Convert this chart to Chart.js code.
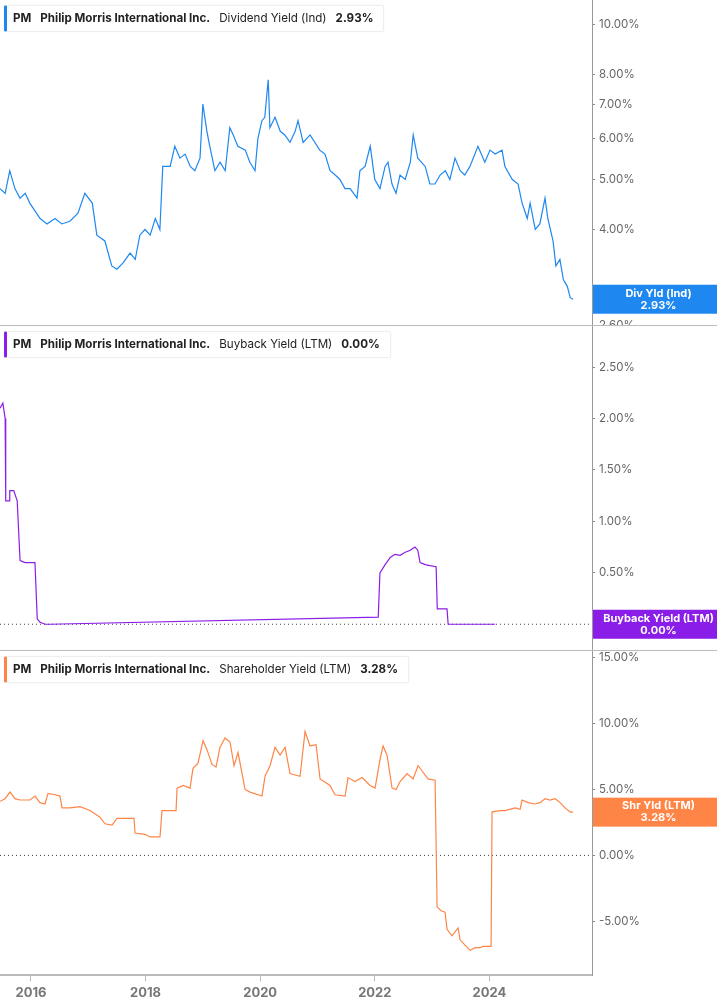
<!DOCTYPE html>
<html><head><meta charset="utf-8">
<script src="https://cdn.jsdelivr.net/npm/chart.js@4"></script>
<style>
body{margin:0;background:#fff;font-family:Inter,"Noto Sans",sans-serif;}
.p{position:absolute;left:0;width:717px;}
.hdr{position:absolute;left:4px;height:25px;background:#fff;border:1px solid #eee;border-left:3px solid;border-radius:2px;font-size:11.6px;line-height:25px;padding:0 10px 0 6px;color:#222;white-space:nowrap;z-index:2;box-shadow:0 0 2px rgba(0,0,0,.05)}
.hdr b{font-weight:700;margin-right:9px}.hdr span{margin-right:9px}
.sep{position:absolute;left:0;width:717px;height:1px;background:#bbb;z-index:1}
</style></head><body>
<div class="p" style="top:0;height:326px"><canvas id="c1"></canvas></div>
<div class="p" style="top:326px;height:325px"><canvas id="c2"></canvas></div>
<div class="p" style="top:651px;height:354px"><canvas id="c3"></canvas></div>
<div class="sep" style="top:325px"></div><div class="sep" style="top:650px"></div>
<div class="hdr" style="top:5px;border-left-color:#1e88f0"><b>PM</b><b>Philip Morris International Inc.</b><span>Dividend Yield (Ind)</span><b style="margin:0">2.93%</b></div>
<div class="hdr" style="top:331px;border-left-color:#8a1ee8"><b>PM</b><b>Philip Morris International Inc.</b><span>Buyback Yield (LTM)</span><b style="margin:0">0.00%</b></div>
<div class="hdr" style="top:656px;border-left-color:#ff8547"><b>PM</b><b>Philip Morris International Inc.</b><span>Shareholder Yield (LTM)</span><b style="margin:0">3.28%</b></div>
<script>
const divDates=[2015.46,2015.55,2015.63,2015.72,2015.81,2015.90,2015.98,2016.16,2016.28,2016.42,2016.54,2016.68,2016.82,2016.94,2017.07,2017.15,2017.29,2017.41,2017.50,2017.61,2017.73,2017.82,2017.90,2017.99,2018.08,2018.17,2018.25,2018.30,2018.43,2018.51,2018.60,2018.69,2018.78,2018.86,2018.95,2019.00,2019.07,2019.12,2019.21,2019.30,2019.39,2019.47,2019.53,2019.61,2019.74,2019.82,2019.91,2019.96,2020.03,2020.08,2020.14,2020.17,2020.26,2020.35,2020.43,2020.52,2020.61,2020.66,2020.75,2020.87,2021.04,2021.13,2021.22,2021.31,2021.39,2021.48,2021.57,2021.69,2021.74,2021.83,2021.92,2022.00,2022.09,2022.18,2022.23,2022.30,2022.37,2022.44,2022.53,2022.62,2022.67,2022.75,2022.88,2022.96,2023.05,2023.14,2023.23,2023.31,2023.40,2023.49,2023.57,2023.66,2023.80,2023.92,2024.01,2024.10,2024.22,2024.27,2024.40,2024.50,2024.57,2024.66,2024.71,2024.80,2024.88,2024.97,2025.02,2025.11,2025.16,2025.23,2025.29,2025.36,2025.41,2025.46];
const divYield=[4.8,4.7,5.2,4.8,4.6,4.7,4.5,4.2,4.1,4.2,4.1,4.15,4.3,4.7,4.5,3.9,3.8,3.4,3.35,3.45,3.6,3.5,3.9,4.0,3.9,4.2,4.0,5.3,5.3,5.8,5.5,5.6,5.3,5.2,5.5,7.0,6.2,5.8,5.2,5.4,5.2,6.3,6.1,5.8,5.7,5.4,5.2,6.0,6.5,6.6,7.8,6.3,6.6,6.2,6.1,5.9,6.2,6.5,5.9,6.1,5.7,5.6,5.2,5.1,5.0,4.8,4.8,4.6,5.2,5.3,5.8,5.0,4.8,5.3,5.4,4.9,4.7,5.1,5.0,5.4,6.1,5.5,5.3,4.9,4.9,5.1,5.2,5.0,5.5,5.2,5.1,5.3,5.8,5.4,5.7,5.6,5.7,5.3,5.0,4.9,4.5,4.2,4.5,4.0,4.1,4.6,4.2,3.8,3.4,3.5,3.2,3.1,2.95,2.93];
const bbDates=[2015.46,2015.51,2015.55,2015.56,2015.62,2015.63,2015.70,2015.76,2015.81,2015.90,2015.98,2016.07,2016.11,2016.16,2016.25,2016.33,2022.06,2022.09,2022.18,2022.27,2022.35,2022.44,2022.53,2022.62,2022.70,2022.75,2022.79,2022.88,2022.96,2023.07,2023.09,2023.19,2023.26,2023.28,2024.10];
const bbYield=[2.1,2.15,2.0,1.2,1.2,1.3,1.3,1.2,0.62,0.6,0.6,0.6,0.05,0.02,0.0,0.0,0.07,0.5,0.58,0.65,0.68,0.67,0.7,0.72,0.75,0.72,0.6,0.58,0.57,0.56,0.15,0.15,0.15,0.0,0.0];
const shPx=[0,5,10,15,20,30,35,40,45,48,55,60,62,70,80,90,100,105,112,117,125,134,135,145,150,160,162,170,176,177,183,190,193,198,203,207,212,216,220,225,230,234,238,245,250,262,265,270,275,280,285,290,295,300,305,310,316,320,330,335,345,348,355,362,370,375,380,383,387,392,396,400,407,413,418,422,428,435,437,441,445,447,452,458,460,465,470,475,480,483,491,492,500,505,515,520,522,528,535,540,545,550,555,560,565,570,573];
const shDates=shPx.map(p=>+(2015.46+p/57.3).toFixed(3));
const shYield=[4.1,4.3,4.8,4.3,4.2,4.2,4.5,4.0,3.9,4.7,4.6,4.5,3.6,3.6,3.7,3.4,2.9,2.4,2.3,2.8,2.8,2.8,1.7,1.6,1.4,1.4,3.4,3.4,3.4,5.1,5.3,5.1,6.6,7.0,8.7,8.0,6.9,6.7,8.2,8.9,8.6,6.8,7.8,5.0,4.8,4.5,6.0,6.8,8.2,7.6,8.2,6.2,6.1,6.0,9.4,8.3,8.4,5.8,5.3,4.6,4.5,5.9,5.6,5.9,5.3,5.1,7.3,8.3,7.6,5.1,5.0,5.6,6.2,5.8,6.8,6.4,5.8,5.7,-3.9,-4.2,-4.3,-5.6,-6.1,-5.5,-6.4,-6.8,-7.2,-7.0,-7.0,-6.9,-6.9,3.3,3.4,3.4,3.6,3.5,4.2,4.0,3.9,4.0,4.3,4.2,4.3,4.0,3.6,3.3,3.28];
const yearTicks=[2016,2018,2020,2022,2024];
const divTicks=[2.6,3,4,5,6,7,8,10];
const bbTicks=[0,0.5,1,1.5,2,2.5];
const shTicks=[-5,0,5,10,15];
const X0=2015.46,X1=2025.79;

const badge={id:'badge',afterDraw(c,a,o){const ctx=c.ctx,y=c.scales.y;const v=o.v;const py=y.getPixelForValue(v);
 const x=c.chartArea.right;ctx.save();ctx.fillStyle=o.color;ctx.fillRect(x+1,py-14.5,c.width-x,29);
 ctx.fillStyle='#fff';ctx.font='bold 11px Inter, sans-serif';ctx.textAlign='center';ctx.textBaseline='middle';
 const cx=(x+c.width)/2+4;ctx.fillText(o.label,cx,py-6);ctx.fillText(v.toFixed(2)+'%',cx,py+6);ctx.restore();}};
const zero={id:'zero',beforeDatasetsDraw(c,a,o){if(!o.on)return;const ctx=c.ctx,py=c.scales.y.getPixelForValue(0);
 ctx.save();ctx.strokeStyle='#444';ctx.lineWidth=1;ctx.setLineDash([1,3]);ctx.beginPath();ctx.moveTo(0,py);ctx.lineTo(c.chartArea.right,py);ctx.stroke();ctx.restore();}};
Chart.register(badge,zero);

function mk(id,dates,vals,color,yopt,ticks,lbl,last,showX,zeroOn){
 return new Chart(document.getElementById(id),{type:'line',
 data:{datasets:[{data:dates.map((d,i)=>({x:d,y:vals[i]})),borderColor:color,borderWidth:1.2,pointRadius:0,tension:0}]},
 options:{responsive:true,maintainAspectRatio:false,animation:false,layout:{padding:0},
  plugins:{legend:{display:false},tooltip:{enabled:false},badge:{v:last,label:lbl,color:color},zero:{on:zeroOn}},
  scales:{x:{type:'linear',min:X0,max:X1,display:showX,
    afterBuildTicks:s=>{s.ticks=yearTicks.map(v=>({value:v}));},
    afterFit:s=>{s.paddingLeft=0;s.paddingRight=0;},
    ticks:{callback:v=>String(v),color:'#777',font:{size:13,weight:'bold',family:'Inter'},padding:4,maxRotation:0},
    grid:{drawOnChartArea:false,tickLength:6,color:'#bbb'},border:{color:'#bbb',width:2}},
   y:Object.assign({position:'right',afterFit:s=>{s.width=125;s.paddingTop=0;s.paddingBottom=0;},
    afterBuildTicks:s=>{s.ticks=ticks.map(v=>({value:v}));},
    ticks:{callback:v=>v.toFixed(2)+'%',color:'#666',font:{size:11.5,family:'Inter'},padding:4},
    grid:{drawOnChartArea:false,tickLength:3,color:'#888'},border:{color:'#999',width:1}},yopt)}}});
}
mk('c1',divDates,divYield,'#1e88f0',{type:'logarithmic',min:2.6,max:11.14},divTicks,'Div Yld (Ind)',2.93,false,false);
mk('c2',bbDates,bbYield,'#8a1ee8',{min:-0.26,max:2.9},bbTicks,'Buyback Yield (LTM)',0.00,false,true);
mk('c3',shDates,shYield,'#ff8547',{min:-9.1,max:15.5},shTicks,'Shr Yld (LTM)',3.28,true,true);
</script></body></html>
